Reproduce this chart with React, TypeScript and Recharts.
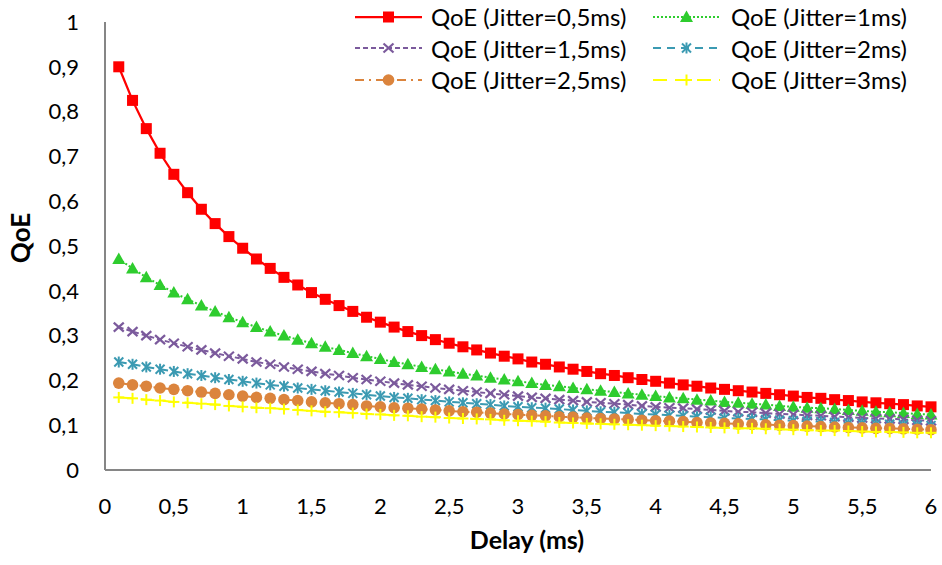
import React from 'react';
import { LineChart, Line, XAxis, YAxis, Legend, Label } from 'recharts';

const delays = [
  0.1, 0.2, 0.3, 0.4, 0.5, 0.6, 0.7, 0.8, 0.9, 1.0,
  1.1, 1.2, 1.3, 1.4, 1.5, 1.6, 1.7, 1.8, 1.9, 2.0,
  2.1, 2.2, 2.3, 2.4, 2.5, 2.6, 2.7, 2.8, 2.9, 3.0,
  3.1, 3.2, 3.3, 3.4, 3.5, 3.6, 3.7, 3.8, 3.9, 4.0,
  4.1, 4.2, 4.3, 4.4, 4.5, 4.6, 4.7, 4.8, 4.9, 5.0,
  5.1, 5.2, 5.3, 5.4, 5.5, 5.6, 5.7, 5.8, 5.9, 6.0,
];

const qoeJitter05 = [
  0.900, 0.825, 0.762, 0.707, 0.660, 0.619, 0.582, 0.550, 0.521, 0.495,
  0.471, 0.450, 0.430, 0.413, 0.396, 0.381, 0.367, 0.354, 0.341, 0.330,
  0.319, 0.309, 0.300, 0.291, 0.283, 0.275, 0.268, 0.261, 0.254, 0.248,
  0.241, 0.236, 0.230, 0.225, 0.220, 0.215, 0.211, 0.206, 0.202, 0.198,
  0.194, 0.190, 0.187, 0.183, 0.180, 0.177, 0.174, 0.171, 0.168, 0.165,
  0.162, 0.160, 0.157, 0.155, 0.152, 0.150, 0.148, 0.146, 0.143, 0.141,
];

const qoeJitter1 = [
  0.471, 0.450, 0.430, 0.413, 0.396, 0.381, 0.367, 0.354, 0.341, 0.330,
  0.319, 0.309, 0.300, 0.291, 0.283, 0.275, 0.268, 0.261, 0.254, 0.248,
  0.241, 0.236, 0.230, 0.225, 0.220, 0.215, 0.211, 0.206, 0.202, 0.198,
  0.194, 0.190, 0.187, 0.183, 0.180, 0.177, 0.174, 0.171, 0.168, 0.165,
  0.162, 0.160, 0.157, 0.155, 0.152, 0.150, 0.148, 0.146, 0.143, 0.141,
  0.139, 0.138, 0.136, 0.134, 0.132, 0.130, 0.129, 0.127, 0.125, 0.124,
];

const qoeJitter15 = [
  0.319, 0.309, 0.300, 0.291, 0.283, 0.275, 0.268, 0.261, 0.254, 0.248,
  0.241, 0.236, 0.230, 0.225, 0.220, 0.215, 0.211, 0.206, 0.202, 0.198,
  0.194, 0.190, 0.187, 0.183, 0.180, 0.177, 0.174, 0.171, 0.168, 0.165,
  0.162, 0.160, 0.157, 0.155, 0.152, 0.150, 0.148, 0.146, 0.143, 0.141,
  0.139, 0.138, 0.136, 0.134, 0.132, 0.130, 0.129, 0.127, 0.125, 0.124,
  0.122, 0.121, 0.119, 0.118, 0.116, 0.115, 0.114, 0.113, 0.111, 0.110,
];

const qoeJitter2 = [
  0.241, 0.236, 0.230, 0.225, 0.220, 0.215, 0.211, 0.206, 0.202, 0.198,
  0.194, 0.190, 0.187, 0.183, 0.180, 0.177, 0.174, 0.171, 0.168, 0.165,
  0.162, 0.160, 0.157, 0.155, 0.152, 0.150, 0.148, 0.146, 0.143, 0.141,
  0.139, 0.138, 0.136, 0.134, 0.132, 0.130, 0.129, 0.127, 0.125, 0.124,
  0.122, 0.121, 0.119, 0.118, 0.116, 0.115, 0.114, 0.113, 0.111, 0.110,
  0.109, 0.108, 0.106, 0.105, 0.104, 0.103, 0.102, 0.101, 0.100, 0.099,
];

const qoeJitter25 = [
  0.194, 0.190, 0.187, 0.183, 0.180, 0.177, 0.174, 0.171, 0.168, 0.165,
  0.162, 0.160, 0.157, 0.155, 0.152, 0.150, 0.148, 0.146, 0.143, 0.141,
  0.139, 0.138, 0.136, 0.134, 0.132, 0.130, 0.129, 0.127, 0.125, 0.124,
  0.122, 0.121, 0.119, 0.118, 0.116, 0.115, 0.114, 0.113, 0.111, 0.110,
  0.109, 0.108, 0.106, 0.105, 0.104, 0.103, 0.102, 0.101, 0.100, 0.099,
  0.098, 0.097, 0.096, 0.095, 0.094, 0.093, 0.093, 0.092, 0.091, 0.090,
];

const qoeJitter3 = [
  0.162, 0.160, 0.157, 0.155, 0.152, 0.150, 0.148, 0.146, 0.143, 0.141,
  0.139, 0.138, 0.136, 0.134, 0.132, 0.130, 0.129, 0.127, 0.125, 0.124,
  0.122, 0.121, 0.119, 0.118, 0.116, 0.115, 0.114, 0.113, 0.111, 0.110,
  0.109, 0.108, 0.106, 0.105, 0.104, 0.103, 0.102, 0.101, 0.100, 0.099,
  0.098, 0.097, 0.096, 0.095, 0.094, 0.093, 0.093, 0.092, 0.091, 0.090,
  0.089, 0.088, 0.088, 0.087, 0.086, 0.085, 0.085, 0.084, 0.083, 0.083,
];

const xTicks = [0, 0.5, 1, 1.5, 2, 2.5, 3, 3.5, 4, 4.5, 5, 5.5, 6];
const yTicks = [0, 0.1, 0.2, 0.3, 0.4, 0.5, 0.6, 0.7, 0.8, 0.9, 1];

const FONT = 'Lato, "Open Sans", sans-serif';
const AXIS_GREY = '#868686';

type Marker = 'square' | 'triangle' | 'x' | 'star' | 'circle' | 'plus';

const SERIES: {
  key: string;
  name: string;
  values: number[];
  color: string;
  dash?: string;
  width: number;
  marker: Marker;
}[] = [
  { key: 'j05', name: 'QoE (Jitter=0,5ms)', values: qoeJitter05, color: '#FF0000', width: 2.25, marker: 'square' },
  { key: 'j1', name: 'QoE (Jitter=1ms)', values: qoeJitter1, color: '#2ECC2E', dash: '2 2', width: 2, marker: 'triangle' },
  { key: 'j15', name: 'QoE (Jitter=1,5ms)', values: qoeJitter15, color: '#7B5A9C', dash: '5 3', width: 2, marker: 'x' },
  { key: 'j2', name: 'QoE (Jitter=2ms)', values: qoeJitter2, color: '#3B9AB2', dash: '8 6', width: 2, marker: 'star' },
  { key: 'j25', name: 'QoE (Jitter=2,5ms)', values: qoeJitter25, color: '#DB843D', dash: '9 5 2 5', width: 2, marker: 'circle' },
  { key: 'j3', name: 'QoE (Jitter=3ms)', values: qoeJitter3, color: '#FFFF00', dash: '14 8', width: 2, marker: 'plus' },
];

const data = delays.map((d, i) => {
  const row: Record<string, number> = { delay: d };
  SERIES.forEach((s) => {
    row[s.key] = s.values[i];
  });
  return row;
});

const comma = (v: number) => String(v).replace('.', ',');

function drawMarker(marker: Marker, cx: number, cy: number, color: string, key?: string) {
  switch (marker) {
    case 'square':
      return <rect key={key} x={cx - 5.5} y={cy - 5.5} width={11} height={11} fill={color} />;
    case 'triangle':
      return (
        <polygon
          key={key}
          points={`${cx},${cy - 6.5} ${cx + 6.5},${cy + 5} ${cx - 6.5},${cy + 5}`}
          fill={color}
        />
      );
    case 'x':
      return (
        <g key={key} stroke={color} strokeWidth={2.2}>
          <line x1={cx - 5} y1={cy - 4.5} x2={cx + 5} y2={cy + 4.5} />
          <line x1={cx - 5} y1={cy + 4.5} x2={cx + 5} y2={cy - 4.5} />
        </g>
      );
    case 'star':
      return (
        <g key={key} stroke={color} strokeWidth={2}>
          <line x1={cx - 4.5} y1={cy - 4.5} x2={cx + 4.5} y2={cy + 4.5} />
          <line x1={cx - 4.5} y1={cy + 4.5} x2={cx + 4.5} y2={cy - 4.5} />
          <line x1={cx} y1={cy - 5.5} x2={cx} y2={cy + 5.5} />
        </g>
      );
    case 'circle':
      return <circle key={key} cx={cx} cy={cy} r={5.8} fill={color} />;
    case 'plus':
    default:
      return (
        <g key={key} stroke={color} strokeWidth={2}>
          <line x1={cx - 5.5} y1={cy} x2={cx + 5.5} y2={cy} />
          <line x1={cx} y1={cy - 5.5} x2={cx} y2={cy + 5.5} />
        </g>
      );
  }
}

const renderLegend = () => (
  <div
    style={{
      display: 'grid',
      gridTemplateColumns: '298px 290px',
      fontFamily: FONT,
      fontSize: 24,
      color: '#000',
    }}
  >
    {SERIES.map((s, i) => (
      <div key={s.key} style={{ display: 'flex', alignItems: 'center', height: 31.5 }}>
        <svg width={67} height={20} style={{ marginRight: i % 2 === 0 ? 9 : 11, flexShrink: 0 }}>
          <line x1={0} y1={10} x2={67} y2={10} stroke={s.color} strokeWidth={s.width} strokeDasharray={s.dash} />
          {drawMarker(s.marker, 33.5, 10, s.color)}
        </svg>
        <span style={{ whiteSpace: 'nowrap' }}>{s.name}</span>
      </div>
    ))}
  </div>
);

const titleStyle = { fill: '#000', fontSize: 25, fontWeight: 700, fontFamily: FONT };

export default function App() {
  return (
    <div style={{ position: 'absolute', left: 0, top: 0, width: 942, height: 565, background: '#fff' }}>
      <LineChart width={942} height={565} data={data} margin={{ top: 22, right: 11, left: 0, bottom: 0 }}>
        <XAxis
          dataKey="delay"
          type="number"
          domain={[0, 6]}
          ticks={xTicks}
          interval={0}
          tickFormatter={comma}
          height={95}
          axisLine={{ stroke: AXIS_GREY, strokeWidth: 2 }}
          tickLine={false}
          tickMargin={22}
          tick={{ fill: '#000', fontSize: 22, fontFamily: FONT }}
        >
          <Label
            content={() => (
              <text x={527} y={549} textAnchor="middle" style={titleStyle}>
                Delay (ms)
              </text>
            )}
          />
        </XAxis>
        <YAxis
          type="number"
          domain={[0, 1]}
          ticks={yTicks}
          interval={0}
          tickFormatter={comma}
          width={105}
          axisLine={{ stroke: AXIS_GREY, strokeWidth: 2 }}
          tickLine={false}
          tickMargin={20}
          tick={{ fill: '#000', fontSize: 22, fontFamily: FONT }}
        >
          <Label
            content={() => (
              <text x={30} y={238} transform="rotate(-90 30 238)" textAnchor="middle" style={{ ...titleStyle, fontSize: 26 }}>
                QoE
              </text>
            )}
          />
        </YAxis>
        <Legend
          layout="horizontal"
          verticalAlign="middle"
          align="center"
          wrapperStyle={{ top: 1, left: 355, width: 587 }}
          content={renderLegend}
        />
        {SERIES.map((s) => (
          <Line
            key={s.key}
            dataKey={s.key}
            name={s.name}
            type="linear"
            stroke={s.color}
            strokeWidth={s.width}
            strokeDasharray={s.dash}
            isAnimationActive={false}
            dot={(p: any) => drawMarker(s.marker, p.cx, p.cy, s.color, `${s.key}-${p.index}`)}
            activeDot={false}
          />
        ))}
      </LineChart>
    </div>
  );
}
